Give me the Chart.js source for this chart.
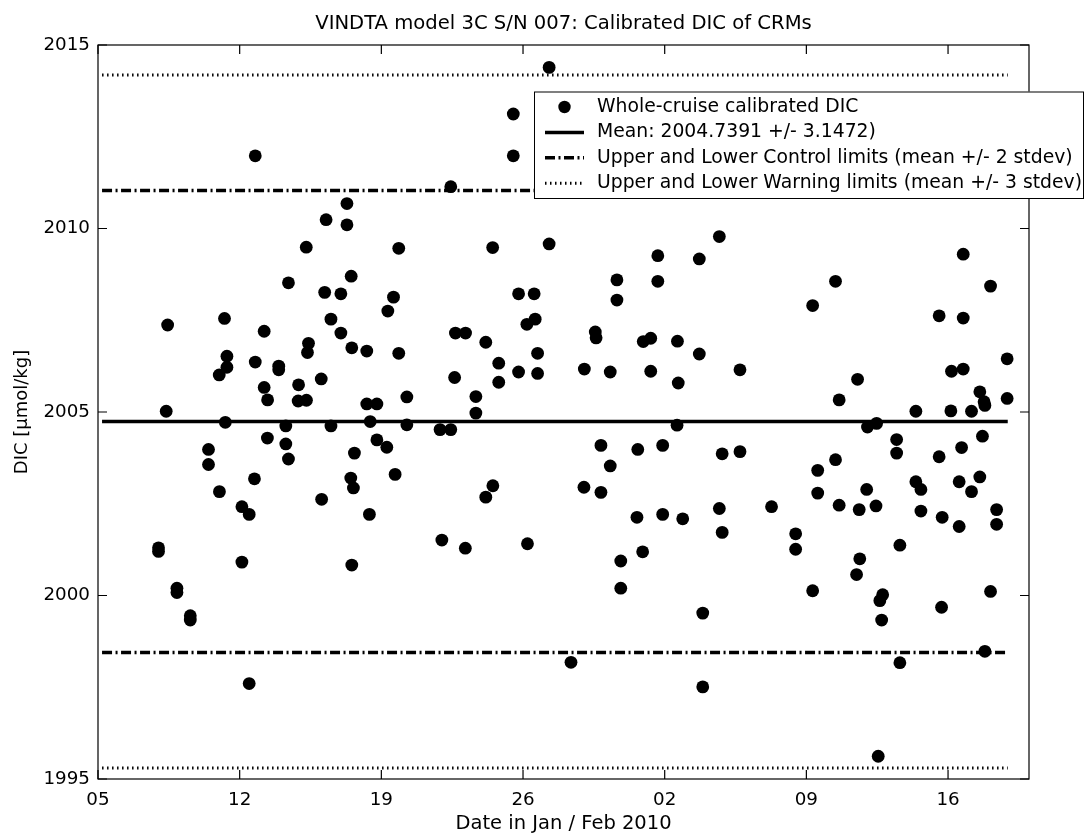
<!DOCTYPE html>
<html><head><meta charset="utf-8">
<script src="https://cdn.jsdelivr.net/npm/chart.js@4.4.1/dist/chart.umd.min.js"></script>
<style>html,body{margin:0;padding:0;background:#fff;overflow:hidden}#wrap{width:1088px;height:834px}</style>
</head><body><div id="wrap"><canvas id="c" width="1088" height="834"></canvas></div>
<script>
const chartTitle = "VINDTA model 3C S/N 007: Calibrated DIC of CRMs";
const xAxisTitle = "Date in Jan / Feb 2010";
const yAxisTitle = "DIC [μmol/kg]";
// sample dates as day number of January 2010 (Feb 02 = 33)
const sampleDays = [
 7.99,7.99,8.37,8.44,8.90,8.90,9.56,9.56,10.46,10.46,
 10.99,11.00,11.25,11.29,11.37,11.37,12.11,12.11,12.47,12.47,
 12.73,12.77,12.77,13.21,13.21,13.38,13.37,13.93,13.93,14.28,
 14.28,14.41,14.41,14.91,14.89,15.30,15.29,15.40,15.35,16.03,
 16.05,16.20,16.27,16.51,16.51,17.00,17.00,17.30,17.30,17.51,
 17.54,17.49,17.62,17.54,17.67,18.28,18.28,18.41,18.45,18.78,
 18.78,19.27,19.32,19.60,19.68,19.86,19.86,20.26,20.26,21.90,
 21.99,22.43,22.43,22.62,22.66,23.16,23.15,23.67,23.67,24.16,
 24.16,24.50,24.51,24.80,24.80,25.52,25.52,25.78,25.78,26.19,
 26.22,26.55,26.60,26.72,26.72,27.29,27.29,28.37,29.03,29.01,
 29.57,29.61,29.85,29.85,30.31,30.31,30.64,30.64,30.83,30.83,
 31.67,31.63,31.91,31.94,32.31,32.31,32.66,32.66,32.90,32.90,
 33.63,33.67,33.61,33.89,34.71,34.71,34.88,34.88,35.70,35.70,
 35.84,35.84,36.72,36.72,38.28,39.47,39.47,40.31,40.31,40.56,
 40.56,41.44,41.44,41.62,41.62,42.48,42.53,42.61,42.64,42.98,
 43.02,43.44,43.47,43.55,43.63,43.77,43.72,44.46,44.46,44.62,
 44.62,45.41,45.41,45.66,45.66,46.56,46.56,46.68,46.71,47.14,
 47.17,47.55,47.55,47.67,47.75,47.75,47.75,48.16,48.16,48.57,
 48.57,48.70,48.78,48.82,48.82,49.10,49.10,49.40,49.40,49.92,
 49.92
];
const dicValues = [
 2001.30,2001.20,2005.02,2007.37,2000.20,2000.08,1999.45,1999.33,2003.98,2003.57,
 2006.01,2002.83,2007.55,2004.72,2006.52,2006.22,2002.42,2000.91,2002.21,1997.60,
 2003.18,2011.98,2006.36,2007.20,2005.67,2005.33,2004.29,2006.25,2006.15,2004.62,
 2004.13,2003.72,2008.52,2005.74,2005.30,2005.32,2009.49,2006.87,2006.62,2005.90,
 2002.62,2008.26,2010.24,2007.53,2004.62,2008.22,2007.15,2010.68,2010.10,2008.70,
 2006.75,2003.20,2002.93,2000.83,2003.88,2006.66,2005.22,2002.21,2004.74,2005.22,
 2004.24,2004.04,2007.75,2008.13,2003.30,2009.46,2006.60,2005.41,2004.65,2004.52,
 2001.51,2011.14,2004.52,2005.94,2007.15,2007.15,2001.29,2005.42,2004.97,2006.90,
 2002.68,2009.48,2002.99,2006.33,2005.81,2013.12,2011.98,2008.22,2006.09,2007.39,
 2001.41,2008.22,2007.53,2006.60,2006.05,2014.39,2009.58,1998.18,2006.17,2002.95,
 2007.18,2007.02,2004.09,2002.81,2006.09,2003.53,2008.60,2008.05,2000.94,2000.20,
 2003.98,2002.13,2001.19,2006.92,2007.01,2006.11,2009.26,2008.56,2004.09,2002.21,
 2006.93,2005.79,2004.64,2002.09,2009.17,2006.58,1999.52,1997.51,2009.78,2002.37,
 2003.86,2001.72,2006.15,2003.92,2002.42,2001.68,2001.26,2007.90,2000.13,2003.41,
 2002.79,2008.56,2003.70,2005.33,2002.46,2000.57,2005.89,2002.34,2001.00,2002.89,
 2004.59,2002.44,2004.69,1995.62,1999.86,2000.02,1999.33,2004.25,2003.88,2001.37,
 1998.17,2005.02,2003.10,2002.89,2002.30,2007.62,2003.78,1999.68,2002.13,2005.03,
 2006.11,2003.10,2001.88,2004.03,2009.30,2007.56,2006.17,2005.02,2002.83,2005.55,
 2003.23,2004.34,2005.28,2005.18,1998.48,2008.43,2000.11,2002.34,2001.94,2006.45,
 2005.37
];
const meanDIC = 2004.7391;
const stdevDIC = 3.1472;
const limitDays = [5.2, 49.95];
const xTickDays = [5, 12, 19, 26, 33, 40, 47];
const xTickLabels = ["05", "12", "19", "26", "02", "09", "16"];
const yTicks = [1995, 2000, 2005, 2010, 2015];
const legendLabels = [
  "Whole-cruise calibrated DIC",
  "Mean: 2004.7391 +/- 3.1472)",
  "Upper and Lower Control limits (mean +/- 2 stdev)",
  "Upper and Lower Warning limits (mean +/- 3 stdev)"
];

const FONT = "'DejaVu Sans', 'Liberation Sans', sans-serif";
const CTRL_DASH = [10, 3.5, 2, 3.5];
const WARN_DASH = [1.5, 3.5];

function hline(val) {
  return limitDays.map(d => ({x: d, y: val}));
}
const points = sampleDays.map((d, i) => ({x: d, y: dicValues[i]}));

const lineDS = (label, val, width, dash) => ({
  label, data: hline(val), showLine: true, pointRadius: 0, pointHoverRadius: 0,
  borderColor: '#000', borderWidth: width, borderDash: dash, fill: false,
  borderCapStyle: 'butt'
});

const framePlugin = {
  id: 'frame',
  afterDatasetsDraw(chart) {
    const {ctx, chartArea: a, scales: {x, y}} = chart;
    ctx.save();
    ctx.strokeStyle = '#000';
    ctx.lineWidth = 1.2;
    ctx.setLineDash([]);
    ctx.strokeRect(a.left, a.top, a.right - a.left, a.bottom - a.top);
    const L = 9;
    ctx.beginPath();
    xTickDays.forEach(v => {
      const px = x.getPixelForValue(v);
      ctx.moveTo(px, a.bottom); ctx.lineTo(px, a.bottom - L);
      ctx.moveTo(px, a.top); ctx.lineTo(px, a.top + L);
    });
    yTicks.forEach(v => {
      const py = y.getPixelForValue(v);
      ctx.moveTo(a.left, py); ctx.lineTo(a.left + L, py);
      ctx.moveTo(a.right, py); ctx.lineTo(a.right - L, py);
    });
    ctx.stroke();

    // title
    ctx.fillStyle = '#000';
    ctx.font = "19.6px " + FONT;
    ctx.textAlign = 'center';
    ctx.textBaseline = 'alphabetic';
    ctx.fillText(chartTitle, (a.left + a.right) / 2, 28.5);

    // legend
    const bx = 534, by = 91.5, bw = 1083 - 534, bh = 198 - 91.5;
    ctx.fillStyle = '#fff';
    ctx.fillRect(bx, by, bw, bh);
    ctx.lineWidth = 1;
    ctx.strokeStyle = '#000';
    ctx.strokeRect(bx + 0.5, by + 0.5, bw, bh);
    const rows = [107, 132.4, 157.8, 183.2];
    const sx0 = 545, sx1 = 584;
    ctx.fillStyle = '#000';
    ctx.beginPath(); ctx.arc((sx0 + sx1) / 2, rows[0], 6.2, 0, Math.PI * 2); ctx.fill();
    ctx.lineWidth = 3.5; ctx.setLineDash([]);
    ctx.beginPath(); ctx.moveTo(sx0, rows[1]); ctx.lineTo(sx1, rows[1]); ctx.stroke();
    ctx.lineWidth = 3.5; ctx.setLineDash(CTRL_DASH);
    ctx.beginPath(); ctx.moveTo(sx0, rows[2]); ctx.lineTo(sx1, rows[2]); ctx.stroke();
    ctx.lineWidth = 3; ctx.setLineDash(WARN_DASH);
    ctx.beginPath(); ctx.moveTo(sx0, rows[3]); ctx.lineTo(sx1, rows[3]); ctx.stroke();
    ctx.setLineDash([]);
    ctx.font = "18.8px " + FONT;
    ctx.textAlign = 'left';
    ctx.textBaseline = 'middle';
    legendLabels.forEach((t, i) => ctx.fillText(t, 597, rows[i]));
    ctx.restore();
  }
};

new Chart(document.getElementById('c'), {
  type: 'scatter',
  data: {
    datasets: [
      lineDS(legendLabels[1], meanDIC, 3.5, []),
      lineDS('Upper Control', meanDIC + 2 * stdevDIC, 3.5, CTRL_DASH),
      lineDS('Lower Control', meanDIC - 2 * stdevDIC, 3.5, CTRL_DASH),
      lineDS('Upper Warning', meanDIC + 3 * stdevDIC, 3, WARN_DASH),
      lineDS('Lower Warning', meanDIC - 3 * stdevDIC, 3, WARN_DASH),
      {
        label: legendLabels[0], data: points,
        pointStyle: 'circle', pointRadius: 6.4, pointHoverRadius: 6.4,
        backgroundColor: '#000', borderColor: '#000', borderWidth: 0, showLine: false
      }
    ]
  },
  options: {
    responsive: false,
    devicePixelRatio: 1,
    animation: false,
    events: [],
    layout: {padding: {left: 0, right: 59, top: 45, bottom: 0}},
    plugins: {legend: {display: false}, title: {display: false}, tooltip: {enabled: false}},
    scales: {
      x: {
        type: 'linear', min: 5, max: 51,
        afterBuildTicks: s => { s.ticks = xTickDays.map(v => ({value: v})); },
        afterFit: s => { s.height = 55; },
        grid: {display: false, drawTicks: false},
        border: {display: false},
        ticks: {
          autoSkip: false, maxRotation: 0, minRotation: 0, padding: 10, color: '#000',
          font: {family: FONT, size: 18.3},
          callback: v => xTickLabels[xTickDays.indexOf(v)]
        },
        title: {display: true, text: xAxisTitle, color: '#000',
          font: {family: FONT, size: 19.5, lineHeight: 1}, padding: {top: 0, bottom: 0}}
      },
      y: {
        min: 1995, max: 2015,
        afterBuildTicks: s => { s.ticks = yTicks.map(v => ({value: v})); },
        afterFit: s => { s.width = 98; },
        grid: {display: false, drawTicks: false},
        border: {display: false},
        ticks: {padding: 8, color: '#000', font: {family: FONT, size: 18.3},
          callback: v => String(v)},
        title: {display: true, text: yAxisTitle, color: '#000',
          font: {family: FONT, size: 18, lineHeight: 1}, padding: {top: 13, bottom: 0}}
      }
    }
  },
  plugins: [framePlugin]
});
</script></body></html>
